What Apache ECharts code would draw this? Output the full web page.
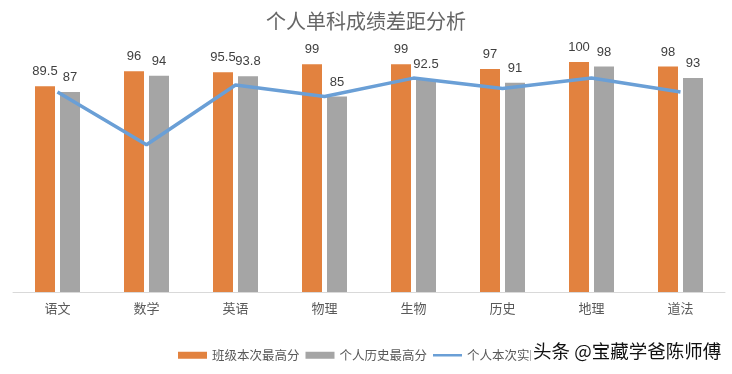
<!DOCTYPE html>
<html>
<head>
<meta charset="utf-8">
<script src="https://cdn.jsdelivr.net/npm/echarts@6/dist/echarts.min.js"></script>
<style>html,body{margin:0;padding:0;background:#fff;}#c{width:732px;height:374px;}</style>
</head>
<body>
<div id="c"></div>
<script>
const categories = ['语文', '数学', '英语', '物理', '生物', '历史', '地理', '道法'];
const classBest = [89.5, 96, 95.5, 99, 99, 97, 100, 98];
const personalBest = [87, 94, 93.8, 85, 92.5, 91, 98, 93];
const personalNow = [87, 64, 90, 85, 93, 88.5, 93, 87];
const seriesNames = ['班级本次最高分', '个人历史最高分', '个人本次实际成绩'];

const chart = echarts.init(document.getElementById('c'), null, {renderer: 'canvas'});
const labelStyle = {
  show: true, position: 'top', distance: 8,
  fontSize: 13, color: '#404040', fontFamily: 'Liberation Sans, Arial, sans-serif'
};
chart.setOption({
  animation: false,
  backgroundColor: '#fff',
  title: {
    text: '个人单科成绩差距分析', left: 'center', top: 6,
    textStyle: {fontSize: 20, fontWeight: 'normal', color: '#666666', fontFamily: 'Noto Sans CJK SC'}
  },
  legend: {
    left: 178, top: 349, padding: 0, itemGap: 6, itemWidth: 29, itemHeight: 7,
    textStyle: {fontSize: 12.5, color: '#595959', fontFamily: 'Noto Sans CJK SC'},
    data: [
      {name: seriesNames[0], icon: 'rect'},
      {name: seriesNames[1], icon: 'rect'},
      {name: seriesNames[2], icon: 'path://M0,0 L0.01,0 M0,7 L0.01,7 M0,2 L33,2 L33,5 L0,5 Z'}
    ]
  },
  grid: {left: 13, right: 7, top: 62, bottom: 82},
  xAxis: {
    type: 'category', data: categories,
    axisLine: {lineStyle: {color: '#d9d9d9', width: 1}},
    axisTick: {show: false},
    axisLabel: {fontSize: 13, color: '#595959', margin: 10, fontFamily: 'Noto Sans CJK SC'}
  },
  yAxis: {type: 'value', min: 0, max: 100, show: false, splitLine: {show: false}},
  series: [
    {name: seriesNames[0], type: 'bar', data: classBest, barWidth: 20, barGap: '25%',
     itemStyle: {color: '#E2823F'}, label: labelStyle},
    {name: seriesNames[1], type: 'bar', data: personalBest, barWidth: 20, barGap: '25%',
     itemStyle: {color: '#A5A5A5'}, label: labelStyle},
    {name: seriesNames[2], type: 'line', data: personalNow, symbol: 'none',
     lineStyle: {color: '#6A9FD6', width: 3.5}, itemStyle: {color: '#6A9FD6'}, z: 5}
  ],
  graphic: [
    {type: 'rect', z: 100, left: 531, top: 341, shape: {width: 201, height: 26}, style: {fill: '#fff'}},
    {type: 'text', z: 101, left: 532, top: 341,
     style: {text: '头条 @宝藏学爸陈师傅', fontSize: 18.5, fill: '#111', fontFamily: 'Noto Sans CJK SC',
             stroke: '#fff', lineWidth: 2}}
  ]
});
</script>
</body>
</html>
